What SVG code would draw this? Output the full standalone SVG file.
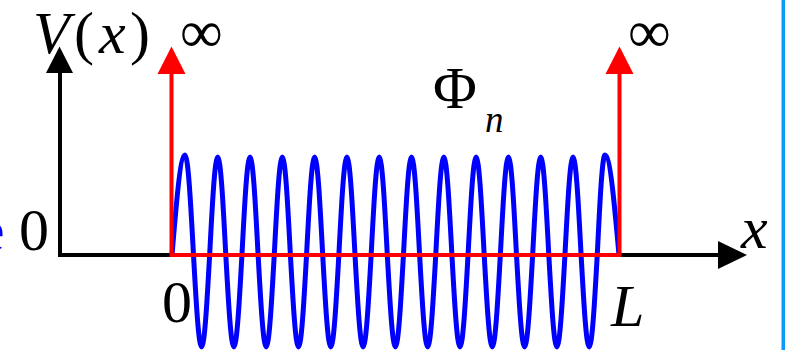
<svg xmlns="http://www.w3.org/2000/svg" width="785" height="350" viewBox="0 0 785 350">
<style>
.t{font-family:"Liberation Serif","Times New Roman",serif;font-size:60px;fill:#000}
.i{font-style:italic}
.ax{stroke:#000;stroke-width:4;fill:none}
.rd{stroke:#ff0000;stroke-width:4;fill:none}
</style>
<rect width="785" height="350" fill="#fff"/>
<g id="axes">
<path class="ax" d="M60,255 H720 M60,257 V72"/>
<polygon points="747,255 718,241 718,269" fill="#000"/>
<polygon points="59.5,46.5 46,73 73,73" fill="#000"/>
</g>
<g id="wave">
<path fill="none" stroke="#0000ff" stroke-width="5" stroke-linejoin="round" d="M172,255 c4.24,-51.23 8.30,-100 13,-100 c3.08,0 5.73,48.77 8.5,100
c2.633,47.13 5.153,92 8.075,92 c2.922,0 5.442,-44.87 8.075,-92 c2.633,-50.21 5.153,-98 8.075,-98 c2.922,0 5.442,47.79 8.075,98
c2.633,47.13 5.153,92 8.075,92 c2.922,0 5.442,-44.87 8.075,-92 c2.633,-50.21 5.153,-98 8.075,-98 c2.922,0 5.442,47.79 8.075,98
c2.633,47.13 5.153,92 8.075,92 c2.922,0 5.442,-44.87 8.075,-92 c2.633,-50.21 5.153,-98 8.075,-98 c2.922,0 5.442,47.79 8.075,98
c2.633,47.13 5.153,92 8.075,92 c2.922,0 5.442,-44.87 8.075,-92 c2.633,-50.21 5.153,-98 8.075,-98 c2.922,0 5.442,47.79 8.075,98
c2.633,47.13 5.153,92 8.075,92 c2.922,0 5.442,-44.87 8.075,-92 c2.633,-50.21 5.153,-98 8.075,-98 c2.922,0 5.442,47.79 8.075,98
c2.633,47.13 5.153,92 8.075,92 c2.922,0 5.442,-44.87 8.075,-92 c2.633,-50.21 5.153,-98 8.075,-98 c2.922,0 5.442,47.79 8.075,98
c2.633,47.13 5.153,92 8.075,92 c2.922,0 5.442,-44.87 8.075,-92 c2.633,-50.21 5.153,-98 8.075,-98 c2.922,0 5.442,47.79 8.075,98
c2.633,47.13 5.153,92 8.075,92 c2.922,0 5.442,-44.87 8.075,-92 c2.633,-50.21 5.153,-98 8.075,-98 c2.922,0 5.442,47.79 8.075,98
c2.633,47.13 5.153,92 8.075,92 c2.922,0 5.442,-44.87 8.075,-92 c2.633,-50.21 5.153,-98 8.075,-98 c2.922,0 5.442,47.79 8.075,98
c2.633,47.13 5.153,92 8.075,92 c2.922,0 5.442,-44.87 8.075,-92 c2.633,-50.21 5.153,-98 8.075,-98 c2.922,0 5.442,47.79 8.075,98
c2.633,47.13 5.153,92 8.075,92 c2.922,0 5.442,-44.87 8.075,-92 c2.633,-50.21 5.153,-98 8.075,-98 c2.922,0 5.442,47.79 8.075,98
c2.633,47.13 5.153,92 8.075,92 c2.922,0 5.442,-44.87 8.075,-92 c2.633,-50.21 5.153,-98 8.075,-98 c2.922,0 5.442,47.79 8.075,98
c2.633,47.13 5.153,92 8.075,92 c2.922,0 5.442,-44.87 8.075,-92
c2.53,-51.23 4.95,-100 7.75,-100 c5.07,0 9.43,48.77 14,100"/>
</g>
<g id="walls">
<path class="rd" d="M171.5,255 H619.5 M171.5,257 V72 M619.5,257 V72"/>
<polygon points="171.5,46.5 157.5,74 185.5,74" fill="#ff0000"/>
<polygon points="619.5,46.5 605.5,74 633.5,74" fill="#ff0000"/>
</g>
<g id="labels">
<text class="t" y="53"><tspan class="i" x="33">V</tspan><tspan x="74">(</tspan><tspan class="i" x="99">x</tspan><tspan x="130">)</tspan></text>
<text class="t" x="180" y="52">∞</text>
<text class="t" x="628" y="52">∞</text>
<text class="t" x="433" y="108">Φ</text>
<text class="t i" x="485" y="132" style="font-size:37px">n</text>
<text class="t" x="19" y="250">0</text>
<text class="t" x="162" y="322">0</text>
<text class="t i" x="611" y="326">L</text>
<text class="t i" x="741" y="248">x</text>
<text class="t" x="-22" y="250" style="fill:#0000ff">e</text>
</g>
<rect x="781.5" y="0" width="3.5" height="350" fill="#0a9bff"/>
</svg>
